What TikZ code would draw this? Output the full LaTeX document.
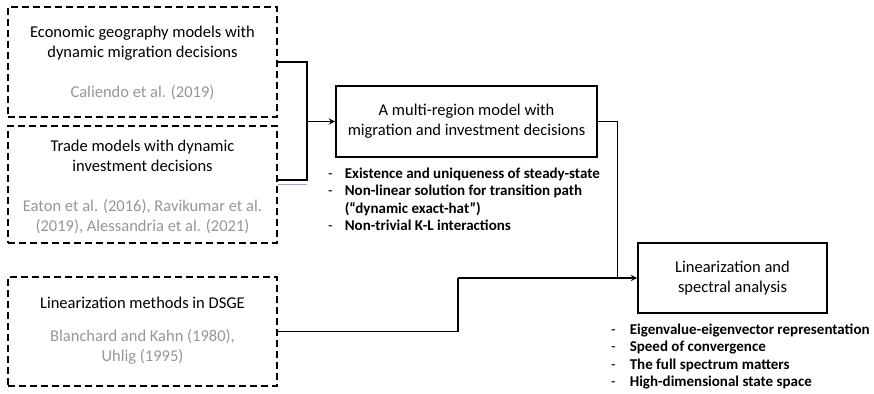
\documentclass[tikz,border=0pt]{standalone}
\usepackage{fontspec}
\setmainfont{Carlito}
\usepackage{xcolor}
\usepackage{tikz}
\definecolor{refGray}{RGB}{150,150,150}
\definecolor{refBlue}{RGB}{143,170,220}
\definecolor{refDark}{RGB}{0,0,0}

\begin{document}
\begin{tikzpicture}[
  x=1pt, y=-1pt,
  litbox/.style={
    draw=refDark, line width=1.8pt, dash pattern=on 7pt off 4pt,
    minimum width=269pt, minimum height=110pt, inner sep=0pt
  },
  modbox/.style={
    draw=refDark, line width=1.8pt, inner sep=0pt, align=center,
    font=\fontsize{16.5}{20}\selectfont
  },
  title/.style={align=center, font=\fontsize{16.5}{20}\selectfont},
  refs/.style={align=center, text=refGray, font=\fontsize{16.5}{19.5}\selectfont},
  bullets/.style={anchor=north west, inner sep=0pt, align=left,
    font=\fontsize{15}{17.5}\selectfont},
  arr/.style={->, line width=1.8pt, color=refDark, >=stealth},
  link/.style={line width=1.8pt, color=refDark},
]
\useasboundingbox (0,0) rectangle (874,393);

%% Left column - literature
\node[litbox, minimum height=110pt] (geo)   at (142.5, 62)  {};
\node[title] (geoT)   at (142.5, 43)  {Economic geography models with\\dynamic migration decisions};
\node[refs]  (geoR)   at (142.5, 93)  {Caliendo et al. (2019)};

\node[litbox, minimum height=117pt] (trade) at (142.5, 184.5) {};
\node[title] (tradeT) at (142.5, 155.5) {Trade models with dynamic\\investment decisions};
\node[refs]  (tradeR) at (142.5, 216.5) {Eaton et al. (2016), Ravikumar et al.\\(2019), Alessandria et al. (2021)};

\node[litbox, minimum height=109pt] (lin)   at (142.5, 331.5) {};
\node[title] (linT)   at (142.5, 303) {Linearization methods in DSGE};
\node[refs]  (linR)   at (142.5, 347) {Blanchard and Kahn (1980),\\Uhlig (1995)};

%% Middle - model
\node[modbox, minimum width=261pt, minimum height=71pt] (multi) at (466.5, 121.5)
  {A multi-region model with\\migration and investment decisions};
\node[bullets] (multiL) at (328, 166) {%
  \begin{tabular}{@{}l@{\hspace{12pt}}l@{}}
  - & \textbf{Existence and uniqueness of steady-state}\\
  - & \textbf{Non-linear solution for transition path}\\
    & \textbf{(“dynamic exact-hat”)}\\
  - & \textbf{Non-trivial K-L interactions}
  \end{tabular}};

%% Right - method
\node[bullets] (specL) at (611, 322) {%
  \begin{tabular}{@{}l@{\hspace{14pt}}l@{}}
  - & \textbf{Eigenvalue-eigenvector representation}\\
  - & \textbf{Speed of convergence}\\
  - & \textbf{The full spectrum matters}\\
  - & \textbf{High-dimensional state space}
  \end{tabular}};
\node[modbox, minimum width=189pt, minimum height=70pt] (spec) at (732.5, 278)
  {Linearization and\\spectral analysis};

%% ── Connectors ──────────────────────────────────────────
\coordinate (mergeA) at (307, 121.5);
\coordinate (mergeB) at (617.5, 278);
\coordinate (stepB)  at (458, 278);

% literature -> model
\draw[link] (geo.east) -| (mergeA) |- ([yshift=4.5pt]trade.east);
\draw[refBlue, line width=0.6pt] ([yshift=0.5pt]trade.east) -- ++(29,0);
\draw[arr] (mergeA) -- (multi.west);

% model and DSGE -> spectral analysis
\draw[link] (multi.east) -| (mergeB);
\draw[link] (lin.east) -| (stepB);
\draw[arr] (stepB) -- (spec.west);

\end{tikzpicture}
\end{document}
